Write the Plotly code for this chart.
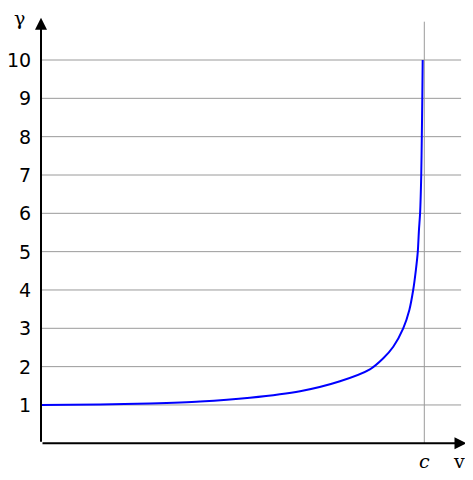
import plotly.graph_objects as go

# velocity as a fraction of c, and the Lorentz factor
v_frac = [0.0, 0.154, 0.284, 0.415, 0.545, 0.676, 0.78, 0.858, 0.893, 0.919,
          0.945, 0.961, 0.971, 0.978, 0.983, 0.986, 0.989, 0.992, 0.9935, 0.9948, 0.9958]
gamma = [1.0, 1.01, 1.04, 1.09, 1.19, 1.36, 1.62, 1.93, 2.22, 2.52,
         3.0, 3.48, 4.0, 4.52, 5.0, 5.56, 6.0, 7.0, 8.0, 9.0, 10.0]
y_ticks = [1, 2, 3, 4, 5, 6, 7, 8, 9, 10]

grid_color = "#9a9a9a"
fig = go.Figure()

shapes = []
for t in y_ticks:
    shapes.append(dict(type="line", xref="x", yref="y", x0=0, x1=1.096, y0=t, y1=t,
                       line=dict(color=grid_color, width=1), layer="below"))
# vertical line at c
shapes.append(dict(type="line", xref="x", yref="y", x0=1, x1=1, y0=0, y1=11.0,
                   line=dict(color=grid_color, width=1), layer="below"))

fig.add_trace(go.Scatter(x=v_frac, y=gamma, mode="lines",
                         line=dict(color="#0000ff", width=2, shape="spline", smoothing=0.8),
                         hoverinfo="skip"))

annotations = []
# axes drawn as arrows
annotations.append(dict(x=1.11, y=0, ax=0, ay=0, xref="x", yref="y", axref="x", ayref="y",
                        showarrow=True, arrowhead=2, arrowsize=1.2, arrowwidth=2,
                        arrowcolor="black", text=""))
annotations.append(dict(x=0, y=11.1, ax=0, ay=0, xref="x", yref="y", axref="x", ayref="y",
                        showarrow=True, arrowhead=2, arrowsize=1.2, arrowwidth=2,
                        arrowcolor="black", text=""))
for t in y_ticks:
    annotations.append(dict(x=-0.021, y=t, xref="x", yref="y", text=str(t),
                            showarrow=False, xanchor="right", yanchor="middle",
                            font=dict(family="DejaVu Sans", size=19, color="black")))
annotations.append(dict(x=-0.055, y=11.1, xref="x", yref="y", text="γ", showarrow=False,
                        xanchor="center", yanchor="middle",
                        font=dict(family="DejaVu Serif", size=19, color="black")))
annotations.append(dict(x=1.0, y=-0.46, xref="x", yref="y", text="<i>c</i>", showarrow=False,
                        xanchor="center", yanchor="middle",
                        font=dict(family="DejaVu Serif", size=19, color="black")))
annotations.append(dict(x=1.09, y=-0.46, xref="x", yref="y", text="v", showarrow=False,
                        xanchor="center", yanchor="middle",
                        font=dict(family="DejaVu Serif", size=19, color="black")))

# page body has an 8px margin, so the figure is a bit smaller and the ranges shifted
fig.update_layout(
    width=460, height=464,
    margin=dict(l=0, r=0, t=0, b=0),
    paper_bgcolor="white", plot_bgcolor="white",
    showlegend=False,
    shapes=shapes, annotations=annotations,
    xaxis=dict(range=[-0.0861, 1.114], visible=False, fixedrange=True),
    yaxis=dict(range=[-0.749, 11.357], visible=False, fixedrange=True),
)

fig.write_html("out.html")
